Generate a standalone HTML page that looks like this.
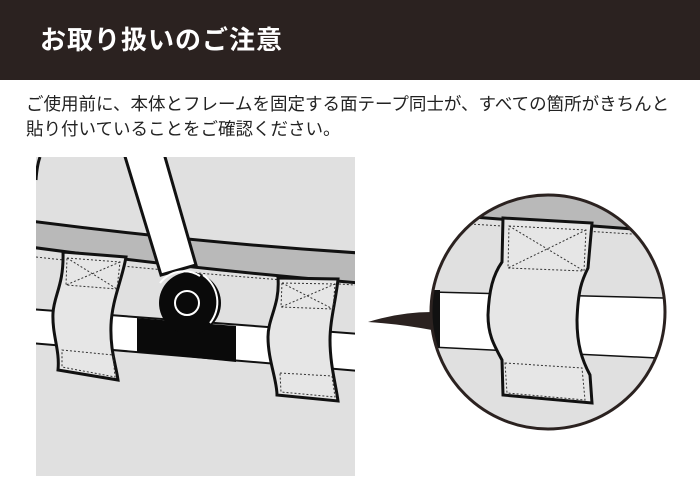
<!DOCTYPE html>
<html><head><meta charset="utf-8"><style>
body{margin:0;width:700px;height:486px;background:#fff;overflow:hidden;font-family:"Liberation Sans","Noto Sans CJK JP",sans-serif}
.hd{position:absolute;left:0;top:0;width:700px;height:80px;background:#2b2220;color:#fff;font-size:26px;font-weight:bold;line-height:80px;box-sizing:border-box;padding-left:40px;letter-spacing:1px}
.tx{position:absolute;left:26px;top:92px;font-size:17.5px;line-height:25px;color:#222;white-space:nowrap}
svg{position:absolute;left:0;top:0}
</style></head><body>
<div class="hd">お取り扱いのご注意</div>
<div class="tx">ご使用前に、本体とフレームを固定する面テープ同士が、すべての箇所がきちんと<br>貼り付いていることをご確認ください。</div>
<svg width="700" height="486" viewBox="0 0 700 486">
<defs><clipPath id="lp"><rect x="36" y="157" width="319" height="319"/></clipPath>
<clipPath id="cc"><circle cx="548" cy="312" r="117"/></clipPath></defs>
<g clip-path="url(#lp)">
<rect x="36" y="157" width="319" height="319" fill="#e0e0e0"/>
<path d="M40,157 Q37,165 36,180" stroke="#111" stroke-width="3" fill="none"/>
<path d="M30,221 Q200,243 360,253 L360,283 Q200,270 30,247 Z" fill="#b9b9b9" stroke="#111" stroke-width="3"/>
<path d="M36,257 Q200,275 355,285" stroke="#333" stroke-width="1" stroke-dasharray="2,2" fill="none"/>
<path d="M30,309 L360,334 L360,371 L30,343 Z" fill="#fff" stroke="#111" stroke-width="2"/>
<path d="M137,318 L236,326 L236,362 L137,352 Z" fill="#0a0a0a"/>
<path d="M123,150 L163,150 L196,265 L161,275 Z" fill="#fff" stroke="#111" stroke-width="3"/>
<circle cx="190" cy="303" r="31" fill="#0a0a0a"/>
<path d="M160,283 A30,30 0 0 1 200,276" stroke="#fff" stroke-width="2" fill="none"/>
<path d="M203,275 A33,33 0 0 1 210,323" stroke="#fff" stroke-width="2" fill="none"/>
<circle cx="187" cy="303" r="12" fill="none" stroke="#fff" stroke-width="2"/>
<path d="M63,252 L126,257 C122,280 112,300 111,325 C110,350 116,365 118,380 L58,370 C60,350 52,335 53,313 C54,295 64,285 63,252 Z" fill="#e6e6e6" stroke="#111" stroke-width="3"/>
<path d="M67,258 L120,262 L117,289 L66,285 Z M67,258 L117,289 M120,262 L66,285 M62,350 L113,355 L115,377 L62,367 Z" fill="none" stroke="#333" stroke-width="1" stroke-dasharray="2,2"/>
<path d="M278,278 L338,279 C336,300 330,320 330,340 C330,365 336,385 338,401 L277,395 C277,380 268,360 268,337 C268,318 280,305 278,278 Z" fill="#e6e6e6" stroke="#111" stroke-width="3"/>
<path d="M282,283 L335,284 L333,309 L281,307 Z M282,283 L333,309 M335,284 L281,307 M280,373 L332,376 L335,397 L281,392 Z" fill="none" stroke="#333" stroke-width="1" stroke-dasharray="2,2"/>
</g>
<path d="M368,322 Q400,312 432,312 L432,330 Q400,324 368,322 Z" fill="#2b2220"/>
<g clip-path="url(#cc)">
<rect x="420" y="190" width="260" height="250" fill="#e0e0e0"/>
<path d="M420,150 L680,150 L680,229 L633,229 L473,217 L420,215 Z" fill="#b9b9b9"/>
<path d="M473,217 L633,229 L680,229" stroke="#111" stroke-width="3" fill="none"/>
<path d="M470,224 L680,237" stroke="#333" stroke-width="1" stroke-dasharray="2,2" fill="none"/>
<path d="M430,292 L663,298 L670,298 L670,359 L657,358 L430,347 Z" fill="#fff" stroke="#111" stroke-width="1.5"/>
<rect x="428" y="290" width="12" height="58" fill="#111"/>
<path d="M503,218 L592,223 L588,268 C582,280 578,290 577,320 C577,345 582,360 590,375 L592,403 L503,395 L502,360 C494,345 488,335 488,315 C489,290 493,275 502,262 Z" fill="#e6e6e6" stroke="#111" stroke-width="3"/>
<path d="M509,226 L586,230 L584,271 L508,268 Z M509,226 L584,271 M586,230 L508,268 M505,363 L582,368 L585,400 L507,393 Z" fill="none" stroke="#333" stroke-width="1" stroke-dasharray="2,2"/>
</g>
<circle cx="548" cy="312" r="117" fill="none" stroke="#2b2220" stroke-width="3"/>
</svg>
</body></html>
